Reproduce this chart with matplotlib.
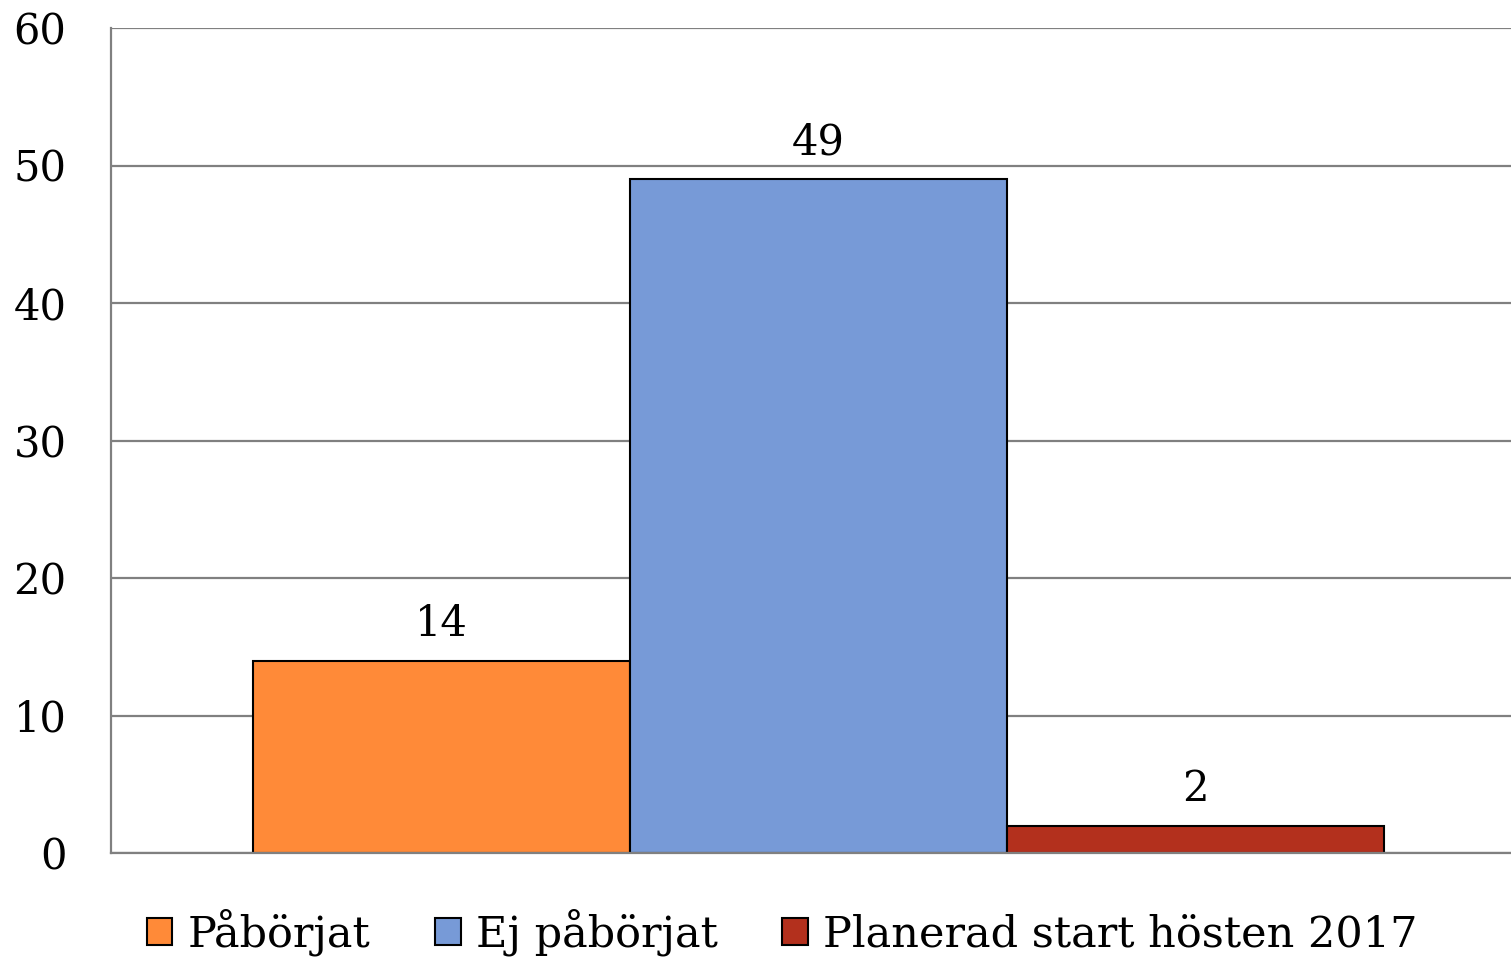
import numpy as np
import matplotlib.pyplot as plt
from matplotlib.patches import Patch

# data
series = ["Påbörjat", "Ej påbörjat", "Planerad start hösten 2017"]
values = [14, 49, 2]
colors = ["#FF8A38", "#779AD7", "#B3301D"]
yticks = [0, 10, 20, 30, 40, 50, 60]

plt.rcParams['font.family'] = ['DejaVu Serif']

fig = plt.figure(figsize=(15.11, 9.57), dpi=100)
ax = fig.add_axes([111/1511, 104/957, 1400/1511, 825/957])

x = np.arange(len(values))
bars = ax.bar(x, values, width=1.0, color=colors, edgecolor="black", linewidth=1.5, zorder=3)

for xi, v in zip(x, values):
    ax.annotate(str(v), (xi, v), xytext=(0, 11), textcoords="offset points",
                ha="center", va="bottom", fontsize=30)

ax.set_xlim(-0.8767, 2.8369)
ax.set_ylim(0, 60)
ax.set_yticks(yticks)
ax.set_xticks([])
ax.tick_params(axis="y", length=0, pad=32, labelsize=30)
ax.yaxis.grid(True, color="#808080", linewidth=1.6, zorder=0)
for s in ["top", "right"]:
    ax.spines[s].set_visible(False)
for s in ["left", "bottom"]:
    ax.spines[s].set_color("#808080")
    ax.spines[s].set_linewidth(1.6)
ax.spines["bottom"].set_zorder(4)

handles = [Patch(facecolor=c, edgecolor="black", linewidth=1.5) for c in colors]
fig.legend(handles, series, loc="center", bbox_to_anchor=(782/1511, 0.026),
           ncol=3, frameon=False, fontsize=31, handlelength=0.6, handleheight=0.6,
           handletextpad=0.35, columnspacing=1.5, borderpad=0)

fig.savefig("out.png", dpi=100)
